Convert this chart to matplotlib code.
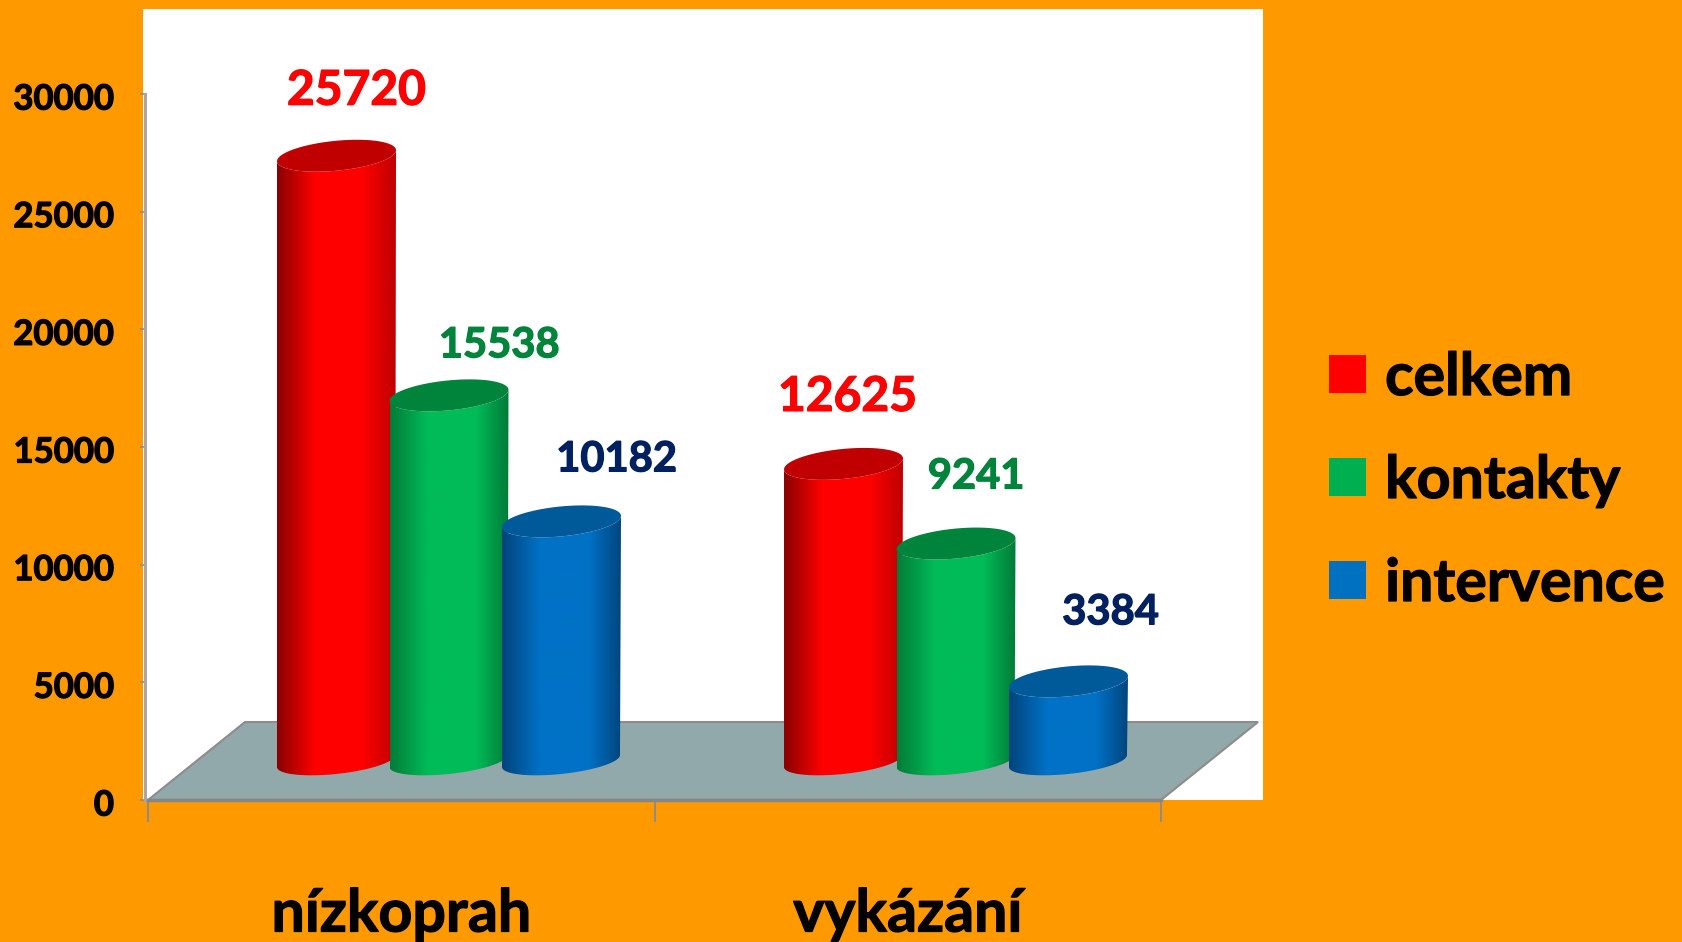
"""
Low-threshold vs reported services, cylinders in a fake 3D floor.
"""

import numpy as np
import matplotlib
matplotlib.use('Agg')
import matplotlib.pyplot as plt
import matplotlib.patheffects as pe
from matplotlib.patches import Patch, Polygon, Rectangle
from matplotlib.transforms import ScaledTranslation

# data
categories = ['nízkoprah', 'vykázání']
series_names = ['celkem', 'kontakty', 'intervence']
celkem = [25720, 12625]
kontakty = [15538, 9241]
intervence = [10182, 3384]
y_ticks = [0, 5000, 10000, 15000, 20000, 25000, 30000]

# nudges of the value labels from the cylinder top, in pixels (dx, dy)
label_nudge = {
    'celkem': [(20, 65), (4, 67)],
    'kontakty': [(50, 50), (20, 67)],
    'intervence': [(55, 62), (42, 69)],
}

W, H = 1682, 942
ORANGE = '#FF9900'
L, R, B, T = 148, 1161, 800, 94  # axes box in pixels

# side shading stops and top colours
styles = {
    'celkem': dict(edge_l='#8A0000', mid='#FF0000', edge_r='#BE0000', top='#C00000',
                   legend='#FF0000', text='#FF0000', size=34.5),
    'kontakty': dict(edge_l='#007C38', mid='#00BC58', edge_r='#007A38', top='#00843C',
                     legend='#00B050', text='#00843C', size=30),
    'intervence': dict(edge_l='#00447C', mid='#0072C6', edge_r='#00447C', top='#005A9A',
                       legend='#0070C0', text='#002060', size=30),
}

plt.rcParams['font.family'] = ['Lato', 'DejaVu Sans']
plt.rcParams['font.weight'] = 'bold'

fig = plt.figure(figsize=(W / 100, H / 100), dpi=100, facecolor=ORANGE)
fig.patches.append(Rectangle((143 / W, 1 - 800 / H), 1120 / W, 791 / H, zorder=-1,
                             transform=fig.transFigure, facecolor='white', edgecolor='none'))

ax = fig.add_axes([L / W, 1 - B / H, (R - L) / W, (B - T) / H])
ax.patch.set_visible(False)
ax.set_xlim(0, 2)
ax.set_ylim(0, 30000)

# pixels to data units
px = 2 / (R - L)
py = 30000 / (B - T)


def to_rgb(c):
    return np.array(matplotlib.colors.to_rgb(c))


def shade(style):
    """Horizontal gradient strip for the side of a cylinder."""
    t = np.linspace(0, 1, 200)
    stops = [0, 0.32, 0.72, 1]
    cols = [to_rgb(style['edge_l']), to_rgb(style['mid']), to_rgb(style['mid']), to_rgb(style['edge_r'])]
    return np.stack([np.interp(t, stops, [c[i] for c in cols]) for i in range(3)], axis=1)[None, :, :]


def ellipse(cx, cy, a, shear, b, start=0, stop=2 * np.pi):
    # sheared, not rotated: the tips stay at the far left and right so the sides join them
    t = np.linspace(start, stop, 80)
    return np.column_stack([cx + a * np.cos(t) * px,
                            cy + (shear * np.cos(t) + b * np.sin(t)) * py])


def cylinder(x_left, value, style):
    """x_left in data units, value on the y axis; the base sits mid-way into the floor."""
    base = DEPTH_Y * py / 2
    top = base + value
    cx_top = x_left + 59.5 * px
    cx_bot = x_left + 59 * px
    body = np.vstack([
        ellipse(cx_bot, base, 59, 6, 13, np.pi, 2 * np.pi),
        ellipse(cx_top, top, 59.5, 5.5, 15, 0, -np.pi),
    ])
    poly = Polygon(body, closed=True, facecolor='none', edgecolor='none', zorder=3)
    ax.add_patch(poly)
    x0, x1 = x_left, x_left + 119 * px
    im = ax.imshow(shade(style), extent=[x0, x1, 0, 30000], aspect='auto',
                   interpolation='bilinear', zorder=3)
    im.set_clip_path(poly)
    ax.add_patch(Polygon(ellipse(cx_top, top, 59.5, 5.5, 15), closed=True,
                         facecolor=style['top'], edgecolor='none', zorder=3))
    return cx_top, top


DEPTH_X, DEPTH_Y = 97, 78  # floor depth in pixels

# floor
ax.add_patch(Polygon([(0, 0), (2, 0), (2 + DEPTH_X * px, DEPTH_Y * py), (DEPTH_X * px, DEPTH_Y * py)],
                     closed=True, facecolor='#92A9AB', edgecolor='#8C8C8C', linewidth=1.5,
                     clip_on=False, zorder=1))

# cylinders, left to right so each one overlaps the previous
group_left = [(277 - L) * px, (784 - L) * px]
step = 112.5 * px
thicker = lambda c: [pe.withStroke(linewidth=0.9, foreground=c)]
for s, (name, values) in enumerate(zip(series_names, [celkem, kontakty, intervence])):
    st = styles[name]
    for g, v in enumerate(values):
        cx, top = cylinder(group_left[g] + s * step, v, st)
        dx, dy = label_nudge[name][g]
        ax.text(cx + dx * px, top + dy * py, str(v), color=st['text'], fontsize=st['size'],
                fontweight='bold', ha='center', va='center', zorder=5,
                path_effects=thicker(st['text']))

ax.set_xlim(0, 2)
ax.set_ylim(0, 30000)

# axes
for side in ('top', 'right'):
    ax.spines[side].set_visible(False)
ax.spines['left'].set_color('#A6A6A6')
ax.spines['left'].set_linewidth(2.2)
ax.spines['left'].set_position(('outward', 2))
ax.spines['bottom'].set_color('#868686')
ax.spines['bottom'].set_linewidth(2.5)
ax.spines['left'].set_zorder(2)

ax.set_yticks(y_ticks)
ax.set_yticklabels([str(v) for v in y_ticks], fontsize=25, fontweight='bold', color='black')
ax.tick_params(axis='y', length=3.5, width=1.2, color='#8C8C8C', pad=19)
nudge_down = ScaledTranslation(0, -2.5 / 100, fig.dpi_scale_trans)
for lab in ax.get_yticklabels():
    lab.set_transform(lab.get_transform() + nudge_down)
    lab.set_path_effects(thicker('black'))

ax.set_xticks([0, 1, 2])
ax.set_xticklabels([])
ax.tick_params(axis='x', which='major', length=16, width=1.4, color='#8C8C8C')
ax.set_xticks([0.5, 1.5], minor=True)
ax.set_xticklabels(categories, minor=True, fontsize=42.5, fontweight='bold', color='black')
ax.tick_params(axis='x', which='minor', length=0, pad=63)
for lab in ax.get_xticklabels(minor=True):
    lab.set_path_effects(thicker('black'))

handles = [Patch(facecolor=styles[n]['legend'], edgecolor='none', label=n) for n in series_names]
leg = fig.legend(handles=handles, loc='center left', bbox_to_anchor=(1329 / W, 1 - 481 / H),
                 frameon=False, prop={'size': 42.5, 'weight': 'bold'},
                 handlelength=0.62, handleheight=0.62, handletextpad=0.33,
                 labelspacing=0.83, borderpad=0, borderaxespad=0, labelcolor='black')
for t in leg.get_texts():
    t.set_path_effects(thicker('black'))

fig.savefig('out.png', dpi=100, facecolor=ORANGE)
